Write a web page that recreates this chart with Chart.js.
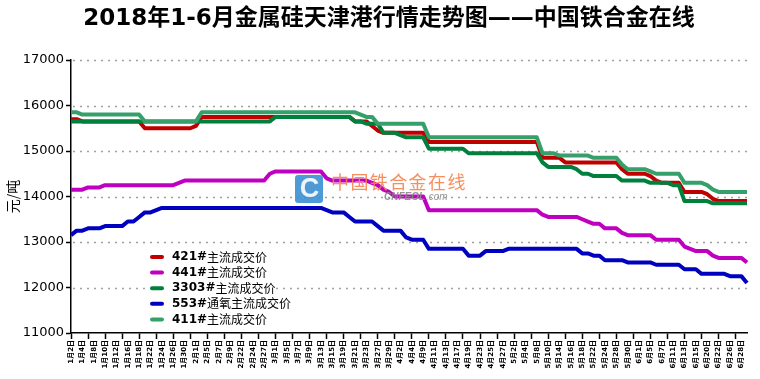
<!DOCTYPE html>
<html>
<head>
<meta charset="utf-8">
<script src="https://cdn.jsdelivr.net/npm/chart.js@4.4.0/dist/chart.umd.min.js"></script>
<style>
html, body { margin: 0; padding: 0; background: #fff; }
#c { display: block; }
</style>
</head>
<body>
<canvas id="c" width="760" height="379"></canvas>
<script>
// trading days, every other one is labelled on the axis
const dates = [
  '1月2日','1月3日','1月4日','1月5日','1月8日','1月9日','1月10日','1月11日','1月12日','1月15日',
  '1月16日','1月17日','1月18日','1月19日','1月22日','1月23日','1月24日','1月25日','1月26日','1月29日',
  '1月30日','1月31日','2月1日','2月2日','2月5日','2月6日','2月7日','2月8日','2月9日','2月12日',
  '2月22日','2月23日','2月24日','2月26日','2月27日','2月28日','3月1日','3月2日','3月5日','3月6日',
  '3月7日','3月8日','3月9日','3月12日','3月13日','3月14日','3月15日','3月16日','3月19日','3月20日',
  '3月21日','3月22日','3月23日','3月26日','3月27日','3月28日','3月29日','3月30日','4月2日','4月3日',
  '4月4日','4月8日','4月9日','4月10日','4月11日','4月12日','4月13日','4月16日','4月17日','4月18日',
  '4月19日','4月20日','4月23日','4月24日','4月25日','4月26日','4月27日','4月28日','5月2日','5月3日',
  '5月4日','5月7日','5月8日','5月9日','5月10日','5月11日','5月14日','5月15日','5月16日','5月17日',
  '5月18日','5月21日','5月22日','5月23日','5月24日','5月25日','5月28日','5月29日','5月30日','5月31日',
  '6月1日','6月4日','6月5日','6月6日','6月7日','6月8日','6月11日','6月12日','6月13日','6月14日',
  '6月15日','6月19日','6月20日','6月21日','6月22日','6月25日','6月26日','6月27日','6月28日','6月29日'
];

const s421 = [
  15700,15700,15650,15650,15650,15650,15650,15650,15650,15650,
  15650,15650,15650,15500,15500,15500,15500,15500,15500,15500,
  15500,15500,15550,15750,15750,15750,15750,15750,15750,15750,
  15750,15750,15750,15750,15750,15750,15750,15750,15750,15750,
  15750,15750,15750,15750,15750,15750,15750,15750,15750,15750,
  15650,15650,15650,15550,15450,15400,15400,15400,15400,15400,
  15400,15400,15400,15200,15200,15200,15200,15200,15200,15200,
  15200,15200,15200,15200,15200,15200,15200,15200,15200,15200,
  15200,15200,15200,14850,14850,14850,14850,14750,14750,14750,
  14750,14750,14750,14750,14750,14750,14750,14600,14500,14500,
  14500,14500,14450,14350,14300,14300,14300,14300,14100,14100,
  14100,14100,14050,13950,13900,13900,13900,13900,13900,13900
];

const s441 = [
  14150,14150,14150,14200,14200,14200,14250,14250,14250,14250,
  14250,14250,14250,14250,14250,14250,14250,14250,14250,14300,
  14350,14350,14350,14350,14350,14350,14350,14350,14350,14350,
  14350,14350,14350,14350,14350,14500,14550,14550,14550,14550,
  14550,14550,14550,14550,14550,14400,14350,14350,14350,14350,
  14350,14350,14350,14300,14250,14150,14100,14000,14000,14000,
  14000,14000,14000,13700,13700,13700,13700,13700,13700,13700,
  13700,13700,13700,13700,13700,13700,13700,13700,13700,13700,
  13700,13700,13700,13600,13550,13550,13550,13550,13550,13550,
  13500,13450,13400,13400,13300,13300,13300,13200,13150,13150,
  13150,13150,13150,13050,13050,13050,13050,13050,12900,12850,
  12800,12800,12800,12700,12650,12650,12650,12650,12650,12550
];

const s3303 = [
  15650,15650,15650,15650,15650,15650,15650,15650,15650,15650,
  15650,15650,15650,15650,15650,15650,15650,15650,15650,15650,
  15650,15650,15650,15650,15650,15650,15650,15650,15650,15650,
  15650,15650,15650,15650,15650,15650,15750,15750,15750,15750,
  15750,15750,15750,15750,15750,15750,15750,15750,15750,15750,
  15650,15650,15600,15600,15600,15400,15400,15400,15350,15300,
  15300,15300,15300,15050,15050,15050,15050,15050,15050,15050,
  14950,14950,14950,14950,14950,14950,14950,14950,14950,14950,
  14950,14950,14950,14750,14650,14650,14650,14650,14650,14600,
  14500,14500,14450,14450,14450,14450,14450,14350,14350,14350,
  14350,14350,14300,14300,14300,14300,14250,14250,13900,13900,
  13900,13900,13900,13850,13850,13850,13850,13850,13850,13850
];

const s553 = [
  13150,13250,13250,13300,13300,13300,13350,13350,13350,13350,
  13450,13450,13550,13650,13650,13700,13750,13750,13750,13750,
  13750,13750,13750,13750,13750,13750,13750,13750,13750,13750,
  13750,13750,13750,13750,13750,13750,13750,13750,13750,13750,
  13750,13750,13750,13750,13750,13700,13650,13650,13650,13550,
  13450,13450,13450,13450,13350,13250,13250,13250,13250,13100,
  13050,13050,13050,12850,12850,12850,12850,12850,12850,12850,
  12700,12700,12700,12800,12800,12800,12800,12850,12850,12850,
  12850,12850,12850,12850,12850,12850,12850,12850,12850,12850,
  12750,12750,12700,12700,12600,12600,12600,12600,12550,12550,
  12550,12550,12550,12500,12500,12500,12500,12500,12400,12400,
  12400,12300,12300,12300,12300,12300,12250,12250,12250,12100
];

const s411 = [
  15850,15850,15800,15800,15800,15800,15800,15800,15800,15800,
  15800,15800,15800,15650,15650,15650,15650,15650,15650,15650,
  15650,15650,15650,15850,15850,15850,15850,15850,15850,15850,
  15850,15850,15850,15850,15850,15850,15850,15850,15850,15850,
  15850,15850,15850,15850,15850,15850,15850,15850,15850,15850,
  15850,15800,15750,15750,15600,15600,15600,15600,15600,15600,
  15600,15600,15600,15300,15300,15300,15300,15300,15300,15300,
  15300,15300,15300,15300,15300,15300,15300,15300,15300,15300,
  15300,15300,15300,14950,14950,14950,14900,14900,14900,14900,
  14900,14900,14850,14850,14850,14850,14850,14700,14600,14600,
  14600,14600,14550,14500,14500,14500,14500,14500,14300,14300,
  14300,14300,14250,14150,14100,14100,14100,14100,14100,14100
];

const seriesNames = ['421#', '441#', '3303#', '553#', '411#'];
const seriesSuffix = ['主流成交价', '主流成交价', '主流成交价', '通氧主流成交价', '主流成交价'];
const seriesColors = ['#c00000', '#c000c0', '#00803c', '#0000c0', '#36a06a'];
const yTicks = [11000, 12000, 13000, 14000, 15000, 16000, 17000];

const titleText = '2018年1-6月金属硅天津港行情走势图——中国铁合金在线';
const yTitle = '元/吨';

const cjk = '"Noto Sans CJK SC", sans-serif';

// dotted horizontal grid
const dotGrid = {
  id: 'dotGrid',
  beforeDatasetsDraw(chart) {
    const ctx = chart.ctx;
    const a = chart.chartArea;
    const ys = chart.scales.y;
    ctx.save();
    ctx.strokeStyle = '#a0a0a0';
    ctx.lineWidth = 1.5;
    ctx.setLineDash([2, 5]);
    yTicks.forEach(v => {
      if (v === 11000) return;
      const y = Math.round(ys.getPixelForValue(v)) + 0.5;
      ctx.beginPath();
      ctx.moveTo(a.left + 2, y);
      ctx.lineTo(a.right, y);
      ctx.stroke();
    });
    ctx.restore();
  }
};

// title, watermark and the legend box are drawn by hand
const extras = {
  id: 'extras',
  afterDatasetsDraw(chart) {
    const ctx = chart.ctx;
    ctx.save();

    // title
    ctx.fillStyle = '#000';
    ctx.font = 'bold 23px "DejaVu Sans", ' + cjk;
    ctx.textAlign = 'center';
    ctx.textBaseline = 'middle';
    ctx.fillText(titleText, 389, 19);

    // watermark
    ctx.globalAlpha = 0.9;
    ctx.fillStyle = '#3b8fd2';
    ctx.beginPath();
    ctx.roundRect(295, 175, 28, 28, 3);
    ctx.fill();
    ctx.fillStyle = '#fff';
    ctx.font = 'bold 27px "Liberation Sans", sans-serif';
    ctx.textAlign = 'center';
    ctx.fillText('C', 309.5, 190);
    ctx.fillStyle = '#f5834c';
    ctx.font = '18px ' + cjk;
    ctx.textAlign = 'left';
    let wx = 331;
    for (const ch of '中国铁合金在线') {
      ctx.fillText(ch, wx, 182);
      wx += 19.4;
    }
    ctx.fillStyle = '#8a8a8a';
    ctx.font = 'italic bold 10px "Liberation Sans", sans-serif';
    ctx.fillText('CNFEOL', 384, 197);
    ctx.font = 'italic 10px "Liberation Sans", sans-serif';
    ctx.fillText('.com', 426, 197);
    ctx.globalAlpha = 1;

    // legend
    ctx.fillStyle = '#fff';
    ctx.fillRect(145, 249, 128, 80);
    for (let i = 0; i < seriesNames.length; i++) {
      const y = 257 + i * 15.6;
      ctx.strokeStyle = seriesColors[i];
      ctx.lineWidth = 4;
      ctx.lineCap = 'round';
      ctx.beginPath();
      ctx.moveTo(152, y);
      ctx.lineTo(162, y);
      ctx.stroke();
      ctx.fillStyle = '#000';
      ctx.textAlign = 'left';
      ctx.font = 'bold 12px "DejaVu Sans", ' + cjk;
      ctx.fillText(seriesNames[i], 172, y);
      const w = ctx.measureText(seriesNames[i]).width;
      ctx.font = '12px ' + cjk;
      ctx.fillText(seriesSuffix[i], 172 + w, y);
    }
    ctx.restore();
  }
};

const allSeries = [s421, s441, s3303, s553, s411];

new Chart(document.getElementById('c'), {
  type: 'line',
  data: {
    labels: dates,
    datasets: allSeries.map((d, i) => ({
      label: seriesNames[i] + seriesSuffix[i],
      data: d,
      borderColor: seriesColors[i],
      backgroundColor: seriesColors[i],
      borderWidth: 4,
      pointRadius: 0,
      tension: 0,
      borderJoinStyle: 'round',
      order: allSeries.length - 1 - i
    }))
  },
  options: {
    responsive: false,
    devicePixelRatio: 1,
    animation: false,
    layout: { padding: { top: 60, right: 13, bottom: 0, left: 0 } },
    plugins: {
      legend: { display: false },
      title: { display: false },
      tooltip: { enabled: false }
    },
    scales: {
      x: {
        offset: false,
        grid: {
          drawOnChartArea: false,
          drawTicks: true,
          tickLength: 6,
          tickWidth: 1.5,
          tickColor: (c) => (c.index % 3 === 0 ? '#000' : 'rgba(0,0,0,0)')
        },
        border: { display: true, color: '#000', width: 1.5 },
        ticks: {
          autoSkip: false,
          maxRotation: 90,
          minRotation: 90,
          padding: 1,
          color: '#000',
          font: { family: '"DejaVu Sans", "Noto Sans CJK SC"', size: 7, weight: 'bold' },
          callback: (v, i) => (i % 2 === 0 ? dates[i] : '')
        },
        afterFit: (s) => { s.height = 46; s.paddingLeft = 0; s.paddingRight = 0; }
      },
      y: {
        min: 11000,
        max: 17000,
        afterBuildTicks: (s) => { s.ticks = yTicks.map(v => ({ value: v })); },
        grid: {
          drawOnChartArea: false,
          tickLength: 5,
          tickColor: '#000',
          tickWidth: 1.5
        },
        border: { display: true, color: '#000', width: 1.5 },
        ticks: {
          padding: 2,
          color: '#000',
          font: { family: '"DejaVu Sans", sans-serif', size: 13 },
          callback: (v) => String(v)
        },
        title: {
          display: true,
          text: yTitle,
          color: '#000',
          padding: { top: 4, bottom: 0 },
          font: { family: '"Noto Sans CJK SC", sans-serif', size: 14 }
        },
        afterFit: (s) => { s.width = 71; s.paddingTop = 0; s.paddingBottom = 0; }
      }
    }
  },
  plugins: [dotGrid, extras]
});
</script>
</body>
</html>
